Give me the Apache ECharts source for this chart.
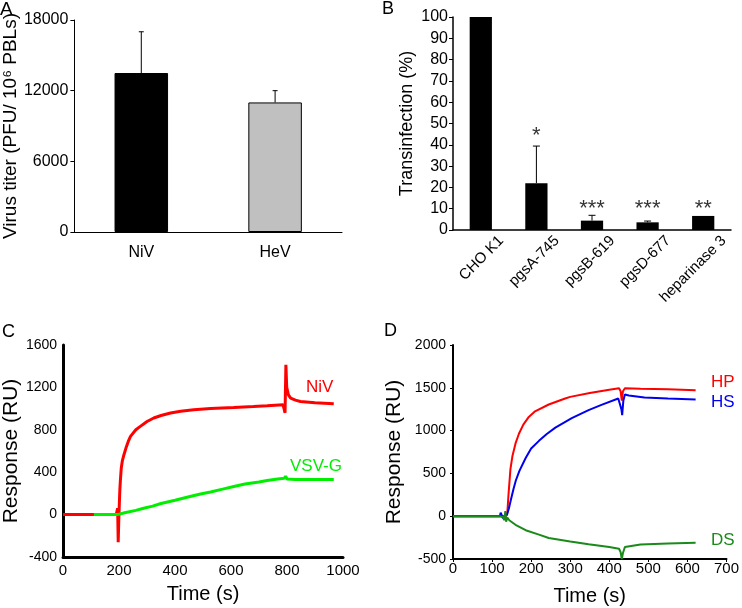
<!DOCTYPE html>
<html><head><meta charset="utf-8">
<script src="https://cdn.jsdelivr.net/npm/echarts@6/dist/echarts.min.js"></script>
<style>html,body{margin:0;padding:0;background:#fff}#c{width:742px;height:608px}</style>
</head><body><div id="c"></div>
<script>
// ---- Panel A ----
const aCategories = ['NiV', 'HeV'];
const aValues = [13500, 11000];
const aErrors = [3500, 1000];
// ---- Panel B ----
const bCategories = ['CHO K1', 'pgsA-745', 'pgsB-619', 'pgsD-677', 'heparinase 3'];
const bValues = [100, 22, 4.4, 3.6, 6.6];
const bErrors = [0, 17.4, 2.5, 0.6, 0];
const bStars = ['', '*', '***', '***', '**'];
const bStarLevels = [null, 44, 10, 10, 10];
// ---- Panel C (time s, response RU) ----
const cNiV = [[0,0],[190,0],[193,0],[195,60],[197,-260],[199,-60],[201,100],[203,240],[205,330],[208,440],[212,510],[217,560],[225,630],[233,690],[241,738],[260,800],[276,832],[300,878],[324,911],[350,935],[384,958],[420,975],[467,989],[527,1002],[610,1011],[680,1020],[729,1027],[786,1036],[791,1040],[793,960],[796,1413],[799,1200],[805,1130],[813,1099],[830,1080],[848,1067],[900,1055],[967,1046]];
const cVSVG = [[110,0],[195,0],[198,12],[200,-12],[202,5],[220,18],[260,40],[288,60],[320,80],[350,105],[400,135],[450,168],[491,195],[527,214],[570,240],[610,265],[650,288],[700,308],[729,322],[760,333],[790,342],[795,362],[800,336],[830,332],[900,331],[967,330]];
// ---- Panel D (time s, response RU) ----
const dHP = [[0,0],[130,0],[136,0],[139,40],[142,250],[147,550],[152,700],[160,850],[169,966],[180,1070],[194,1160],[210,1225],[245,1305],[287,1375],[300,1394],[350,1440],[400,1478],[425,1495],[429,1460],[432,1350],[435,1460],[440,1495],[480,1490],[550,1483],[621,1472]];
const dHS = [[0,0],[120,0],[122,40],[125,10],[128,-25],[131,0],[138,15],[143,90],[148,190],[155,320],[161,420],[170,530],[186,680],[200,790],[220,880],[240,960],[262,1035],[304,1145],[347,1240],[380,1300],[423,1375],[428,1365],[431,1250],[433,1180],[436,1350],[440,1421],[450,1410],[490,1386],[550,1375],[621,1363]];
const dDS = [[0,0],[120,0],[128,-10],[131,-45],[134,60],[136,-65],[139,-15],[144,-47],[160,-100],[186,-164],[220,-215],[245,-255],[300,-295],[347,-327],[400,-360],[425,-380],[429,-420],[432,-500],[435,-430],[440,-360],[444,-339],[480,-330],[550,-320],[621,-311]];

const FONT = 'Liberation Sans, Arial, sans-serif';
const chart = echarts.init(document.getElementById('c'), null, {renderer: 'canvas'});
const plain = v => String(v);

function errorSeries(xi, values, errors, capHalf) {
  return {
    type: 'custom', xAxisIndex: xi, yAxisIndex: xi, z: 5, silent: true,
    data: values.map((v, i) => [i, v, v + errors[i]]),
    renderItem: function (params, api) {
      const lo = api.value(1), hi = api.value(2);
      if (!(hi > lo)) return null;
      const b = api.coord([api.value(0), lo]);
      const t = api.coord([api.value(0), hi]);
      return {type: 'group', children: [
        {type: 'line', shape: {x1: t[0], y1: b[1], x2: t[0], y2: t[1]}, style: {stroke: '#000', lineWidth: 1}},
        {type: 'line', shape: {x1: t[0] - capHalf, y1: t[1], x2: t[0] + capHalf, y2: t[1]}, style: {stroke: '#000', lineWidth: 1}}
      ]};
    }
  };
}

const aColors = ['#000000', '#c0c0c0'];
const txt = (s, x, y, size, color, align) => ({type: 'text', x: x, y: y, style: {text: s, fill: color || '#000', font: size + 'px ' + FONT, textAlign: align || 'left', textVerticalAlign: 'middle'}});

const option = {
  animation: false,
  textStyle: {fontFamily: FONT, color: '#000'},
  grid: [
    {left: 68, top: 20, width: 274, height: 212},
    {left: 453, top: 17, width: 278, height: 213},
    {left: 63, top: 345, width: 280, height: 212},
    {left: 453, top: 345, width: 276, height: 214}
  ],
  xAxis: [
    {gridIndex: 0, type: 'category', data: aCategories,
     axisLine: {lineStyle: {color: '#000', width: 1}}, axisTick: {length: 4, lineStyle: {color: '#000'}},
     axisLabel: {color: '#000', fontSize: 16, margin: 13, fontFamily: FONT}},
    {gridIndex: 1, type: 'category', data: bCategories,
     axisLine: {lineStyle: {color: '#000', width: 1.5}}, axisTick: {length: 4, lineStyle: {color: '#000'}},
     axisLabel: {color: '#000', fontSize: 15, rotate: 45, interval: 0, margin: 29, padding: [0, -29, 0, 0], fontFamily: FONT}},
    {gridIndex: 2, type: 'value', min: 0, max: 1000, interval: 200,
     name: 'Time (s)', nameLocation: 'middle', nameGap: 27, nameTextStyle: {fontSize: 20, color: '#000', fontFamily: FONT},
     splitLine: {show: false}, axisLine: {onZero: false, lineStyle: {color: '#000', width: 3}}, axisTick: {show: false},
     axisLabel: {color: '#000', fontSize: 15, margin: 6, fontFamily: FONT, formatter: plain}},
    {gridIndex: 3, type: 'value', min: 0, max: 700, interval: 100,
     name: 'Time (s)', nameLocation: 'middle', nameGap: 27, nameTextStyle: {fontSize: 20, color: '#000', fontFamily: FONT},
     splitLine: {show: false}, axisLine: {onZero: false, lineStyle: {color: '#000', width: 2}}, axisTick: {length: 3, lineStyle: {color: '#000'}},
     axisLabel: {color: '#000', fontSize: 15, margin: 2, fontFamily: FONT, formatter: plain}}
  ],
  yAxis: [
    {gridIndex: 0, type: 'value', min: 0, max: 18000, interval: 6000,
     name: 'Virus titer (PFU/ 10\u2076 PBLs)', nameLocation: 'middle', nameGap: 47, nameTextStyle: {fontSize: 19, color: '#000', fontFamily: FONT},
     splitLine: {show: false}, axisLine: {show: true, lineStyle: {color: '#000', width: 1}}, axisTick: {show: true, length: 4, lineStyle: {color: '#000'}},
     axisLabel: {color: '#000', fontSize: 16, margin: 6, fontFamily: FONT, formatter: plain}},
    {gridIndex: 1, type: 'value', min: 0, max: 100, interval: 10,
     name: 'Transinfection (%)', nameLocation: 'middle', nameGap: 37, nameTextStyle: {fontSize: 18, color: '#000', fontFamily: FONT},
     splitLine: {show: false}, axisLine: {show: true, lineStyle: {color: '#000', width: 1.5}}, axisTick: {show: true, length: 4, lineStyle: {color: '#000'}},
     axisLabel: {color: '#000', fontSize: 16, margin: 5, fontFamily: FONT, formatter: plain}},
    {gridIndex: 2, type: 'value', min: -400, max: 1600, interval: 400,
     name: 'Response (RU)', nameLocation: 'middle', nameGap: 41, nameTextStyle: {fontSize: 21, color: '#000', fontFamily: FONT},
     splitLine: {show: false}, axisLine: {show: true, onZero: false, lineStyle: {color: '#000', width: 3}}, axisTick: {show: false},
     axisLabel: {color: '#000', fontSize: 14, margin: 6, fontFamily: FONT, formatter: plain}},
    {gridIndex: 3, type: 'value', min: -500, max: 2000, interval: 500,
     name: 'Response (RU)', nameLocation: 'middle', nameGap: 48, nameTextStyle: {fontSize: 21, color: '#000', fontFamily: FONT},
     splitLine: {show: false}, axisLine: {show: true, onZero: false, lineStyle: {color: '#000', width: 2}}, axisTick: {show: true, length: 3, lineStyle: {color: '#000'}},
     axisLabel: {color: '#000', fontSize: 14, margin: 7, fontFamily: FONT, formatter: plain}}
  ],
  series: [
    {type: 'bar', xAxisIndex: 0, yAxisIndex: 0, barWidth: '40%',
     data: aValues.map((v, i) => ({value: v, itemStyle: {color: aColors[i], borderColor: '#000', borderWidth: 1}}))},
    errorSeries(0, aValues, aErrors, 2.5),
    {type: 'bar', xAxisIndex: 1, yAxisIndex: 1, barWidth: '40%', itemStyle: {color: '#000'}, data: bValues},
    errorSeries(1, bValues, bErrors, 3.5),
    {type: 'scatter', xAxisIndex: 1, yAxisIndex: 1, symbolSize: 0, silent: true,
     data: bStarLevels.map((v, i) => [i, v]),
     label: {show: true, position: 'inside', color: '#000', fontSize: 22, fontFamily: FONT,
       formatter: p => bStars[p.dataIndex]}},
    {type: 'line', xAxisIndex: 2, yAxisIndex: 2, data: cNiV, showSymbol: false, lineStyle: {color: '#ff0000', width: 3}, itemStyle: {color: '#ff0000'}},
    {type: 'line', xAxisIndex: 2, yAxisIndex: 2, data: cVSVG, showSymbol: false, lineStyle: {color: '#00ee00', width: 3}, itemStyle: {color: '#00ee00'}},
    {type: 'line', xAxisIndex: 3, yAxisIndex: 3, data: dHP, showSymbol: false, lineStyle: {color: '#ff0000', width: 2}, itemStyle: {color: '#ff0000'}},
    {type: 'line', xAxisIndex: 3, yAxisIndex: 3, data: dHS, showSymbol: false, lineStyle: {color: '#0000ee', width: 2}, itemStyle: {color: '#0000ee'}},
    {type: 'line', xAxisIndex: 3, yAxisIndex: 3, data: dDS, showSymbol: false, lineStyle: {color: '#1a8a1a', width: 2}, itemStyle: {color: '#1a8a1a'}}
  ],
  graphic: [
    txt('A', 0, 10, 19),
    txt('B', 382, 9, 18),
    txt('C', 2, 332, 18),
    txt('D', 384, 331, 18),
    txt('NiV', 306, 387, 17, '#ff0000'),
    txt('VSV-G', 290, 466, 17, '#00ee00'),
    txt('HP', 711, 382, 17, '#ff0000'),
    txt('HS', 711, 402, 17, '#0000ee'),
    txt('DS', 711, 540, 17, '#1a8a1a')
  ]
};
chart.setOption(option);
</script></body></html>
